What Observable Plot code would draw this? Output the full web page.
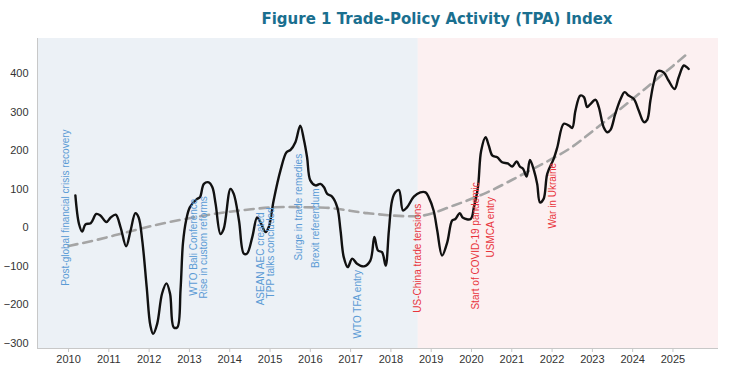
<!DOCTYPE html>
<html>
<head>
<meta charset="utf-8">
<script src="https://cdn.jsdelivr.net/npm/d3@7"></script>
<script src="https://cdn.jsdelivr.net/npm/@observablehq/plot@0.6"></script>
<style>
  html, body { margin: 0; padding: 0; background: #fff; }
  #wrap { width: 750px; height: 375px; position: relative; }
  #title { position: absolute; left: 124px; width: 626px; top: 0; height: 30px; line-height: 38px;
           text-align: center; font-family: "DejaVu Sans", Verdana, sans-serif; font-weight: bold;
           font-size: 15px; color: #1a6f8f; }
  #chart { position: absolute; left: 0; top: 30px; }
  #chart svg text { font-family: 'Liberation Sans', Arial, sans-serif; }
</style>
</head>
<body>
<div id="wrap">
  <div id="title">Figure 1 Trade-Policy Activity (TPA) Index</div>
  <div id="chart"></div>
</div>
<script>
// TPA index: decimal year and index value
const tpaYear = [2010.17,2010.26,2010.34,2010.42,2010.55,2010.69,2010.79,2010.94,2011.04,2011.17,2011.29,2011.43,2011.54,2011.66,2011.74,2011.83,2011.94,2012.03,2012.10,2012.20,2012.32,2012.43,2012.52,2012.61,2012.70,2012.78,2012.84,2012.92,2013.01,2013.19,2013.26,2013.36,2013.48,2013.57,2013.65,2013.77,2013.85,2014.02,2014.10,2014.23,2014.35,2014.43,2014.56,2014.68,2014.76,2014.89,2014.97,2015.09,2015.26,2015.41,2015.51,2015.63,2015.75,2015.84,2015.92,2016.00,2016.13,2016.25,2016.34,2016.42,2016.54,2016.67,2016.75,2016.83,2016.93,2017.04,2017.16,2017.33,2017.49,2017.59,2017.68,2017.78,2017.87,2017.95,2018.03,2018.11,2018.20,2018.30,2018.40,2018.57,2018.73,2018.86,2018.94,2019.06,2019.15,2019.27,2019.40,2019.52,2019.60,2019.71,2019.79,2019.98,2020.06,2020.16,2020.24,2020.35,2020.43,2020.52,2020.64,2020.76,2020.90,2021.01,2021.12,2021.20,2021.28,2021.37,2021.45,2021.55,2021.63,2021.70,2021.79,2021.88,2022.04,2022.13,2022.29,2022.42,2022.50,2022.58,2022.70,2022.79,2022.87,2022.95,2023.08,2023.16,2023.28,2023.37,2023.45,2023.57,2023.70,2023.80,2023.90,2024.03,2024.15,2024.28,2024.36,2024.44,2024.52,2024.62,2024.77,2024.89,2025.04,2025.14,2025.27,2025.35,2025.39];
const tpaValue = [84,10,-10,9,12,36,32,15,26,34,2,-48,-7,38,27,-33,-154,-253,-275,-249,-171,-144,-171,-258,-258,-160,-40,20,53,75,79,114,118,105,62,-16,-3,101,88,19,-67,-67,-24,27,15,-11,2,71,149,196,202,222,265,229,183,123,110,114,105,88,81,53,-7,-76,-102,-80,-93,-100,-85,-24,-59,-63,-98,-7,71,92,98,45,53,81,92,92,79,45,-7,-72,-37,19,23,38,26,23,53,105,200,235,213,187,183,170,167,159,172,159,153,133,176,149,114,66,75,140,179,209,270,265,259,304,343,339,313,321,332,313,261,248,254,296,334,352,343,334,304,274,280,330,375,406,403,382,360,390,421,416,412];

// Trend (dashed grey)
const trendYear = [2010.0,2010.63,2011.46,2012.28,2012.9,2013.61,2014.43,2015.34,2016.38,2017.41,2018.49,2018.73,2019.56,2020.39,2021.22,2021.84,2022.5,2023.0,2023.5,2024.0,2024.5,2025.0,2025.35];
const trendValue = [-47,-33,-11,10,23,36,47,54,52,38,30,31,58,92,136,170,210,250,292,334,377,420,451];

// Background periods
const periodStart = [2009.23, 2018.68];
const periodEnd = [2018.68, 2026.13];
const periodColor = ["#ecf1f6", "#fcf0f1"];

// Event annotations
const eventLabel = ["Post-global financial crisis recovery","WTO Bali Conference","Rise in custom reforms","ASEAN AEC created","TPP talks concluded","Surge in trade remedies","Brexit referendum","WTO TFA entry","US-China trade tensions","Start of COVID-19 pandemic","USMCA entry","War in Ukraine"];
const eventYear = [2009.93,2013.10,2013.35,2014.76,2015.01,2015.71,2016.13,2017.17,2018.68,2020.10,2020.47,2022.03];
const eventValue = [-150,-176,-183,-201,-183,-85,-104,-287,-220,-212,-77,-2];
const eventColor = ["#5b9bd5","#5b9bd5","#5b9bd5","#5b9bd5","#5b9bd5","#5b9bd5","#5b9bd5","#5b9bd5","#e8343c","#e8343c","#e8343c","#e8343c"];

// Axis ticks
const xTicks = [2010,2011,2012,2013,2014,2015,2016,2017,2018,2019,2020,2021,2022,2023,2024,2025];
const yTicks = [-300,-200,-100,0,100,200,300,400];
const xDomain = [2009.23, 2026.13];
const yDomain = [-313, 491];

const tpa = tpaYear.map((x, i) => ({x, y: tpaValue[i]}));
const trend = trendYear.map((x, i) => ({x, y: trendValue[i]}));
const periods = periodStart.map((s, i) => ({s, e: periodEnd[i], c: periodColor[i]}));
const events = eventLabel.map((t, i) => ({t, x: eventYear[i], y: eventValue[i], c: eventColor[i]}));

const font = "'Liberation Sans', Arial, sans-serif";

const chart = Plot.plot({
  width: 750,
  height: 345,
  marginTop: 8,
  marginBottom: 27,
  marginLeft: 37,
  marginRight: 32,
  style: {fontFamily: font, fontSize: "11px", background: "transparent"},
  x: {domain: xDomain, label: null},
  y: {domain: yDomain, label: null},
  color: {type: "identity"},
  marks: [
    Plot.rect(periods, {x1: "s", x2: "e", y1: yDomain[0], y2: yDomain[1], fill: "c"}),
    Plot.line(trend, {x: "x", y: "y", stroke: "#a5a5a5", strokeWidth: 2.6, strokeDasharray: "9,6", curve: "monotone-x"}),
    Plot.line(tpa, {x: "x", y: "y", stroke: "#111", strokeWidth: 2.4, curve: "catmull-rom"}),
    Plot.text(events, {x: "x", y: "y", text: "t", fill: "c", rotate: -90, textAnchor: "start", fontSize: 10, fontFamily: font}),
    Plot.ruleY([yDomain[0]], {stroke: "#c8c8c8"}),
    Plot.ruleX([xDomain[0]], {stroke: "#c8c8c8"}),
    Plot.axisX({ticks: xTicks, tickFormat: d => String(d), tickSize: 4, tickPadding: 3, stroke: "#c8c8c8", fill: "#333", fontSize: 11, label: null}),
    Plot.axisY({ticks: yTicks, tickSize: 0, tickPadding: 9, fill: "#333", fontSize: 11, label: null})
  ]
});
document.getElementById("chart").appendChild(chart);
</script>
</body>
</html>
